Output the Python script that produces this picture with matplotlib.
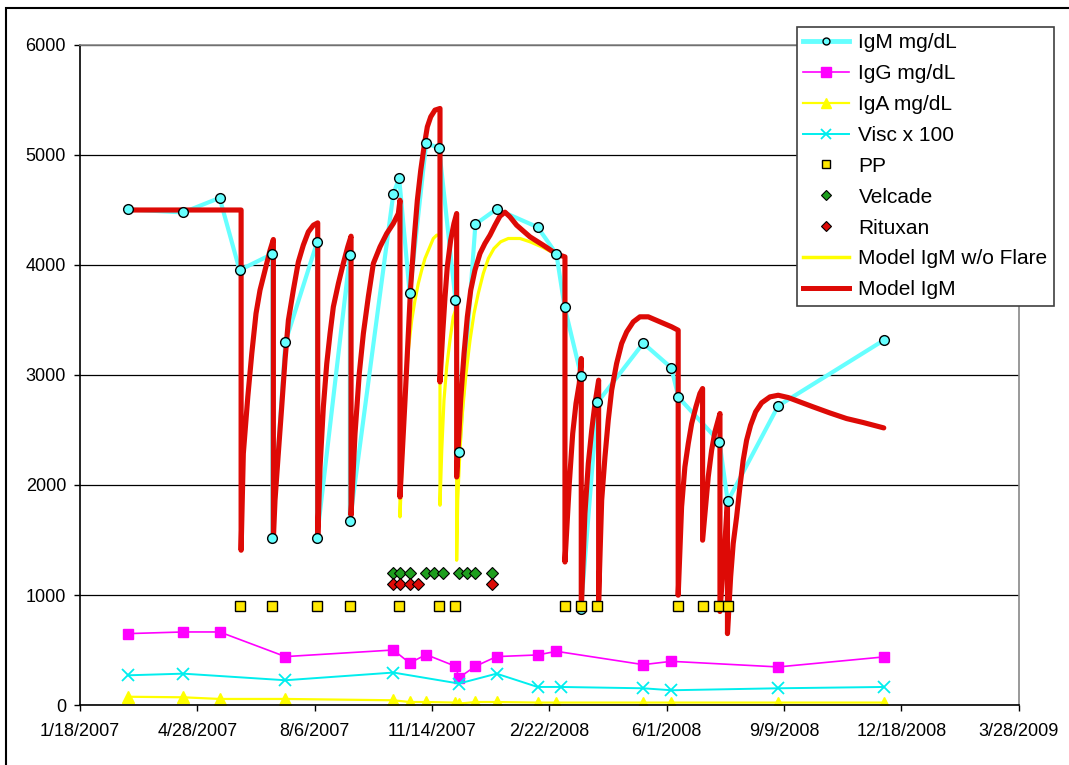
import numpy as np
import pandas as pd
import matplotlib
matplotlib.use("Agg")
import matplotlib.pyplot as plt
import matplotlib.dates as mdates
from matplotlib.lines import Line2D
from matplotlib.patches import Rectangle

plt.rcParams['font.family'] = ['Liberation Sans', 'DejaVu Sans']

# ---- measured lab values ----
igm_dates = ["2007-02-28", "2007-04-16", "2007-05-17", "2007-06-03", "2007-07-01", "2007-07-01",
             "2007-07-12", "2007-08-08", "2007-08-08", "2007-09-05", "2007-09-05", "2007-10-12",
             "2007-10-17", "2007-10-26", "2007-11-09", "2007-11-20", "2007-12-04", "2007-12-07",
             "2007-12-21", "2008-01-08", "2008-02-12", "2008-02-28", "2008-03-06", "2008-03-20",
             "2008-03-20", "2008-04-03", "2008-05-12", "2008-06-05", "2008-06-11", "2008-07-16",
             "2008-07-23", "2008-09-04", "2008-12-03"]
igm_vals = [4505, 4478, 4610, 3953, 4101, 1522, 3298, 4206, 1522, 4087, 1670, 4644, 4790, 3741,
            5108, 5063, 3683, 2301, 4371, 4508, 4344, 4101, 3619, 2995, 877, 2750, 3289, 3065,
            2798, 2392, 1852, 2719, 3316]

igg_dates = ["2007-02-28", "2007-04-16", "2007-05-17", "2007-07-12", "2007-10-12", "2007-10-26",
             "2007-11-09", "2007-12-04", "2007-12-07", "2007-12-21", "2008-01-08", "2008-02-12",
             "2008-02-28", "2008-05-12", "2008-06-05", "2008-09-04", "2008-12-03"]
igg_vals = [649, 664, 664, 440, 500, 382, 458, 352, 249, 352, 440, 455, 488, 367, 397, 346, 437]

iga_dates = igg_dates
iga_vals = [75, 70, 55, 55, 43, 27, 27, 22, 13, 27, 27, 22, 22, 22, 22, 22, 22]

visc_dates = ["2007-02-28", "2007-04-16", "2007-07-12", "2007-10-12", "2007-12-07", "2008-01-08",
              "2008-02-12", "2008-03-03", "2008-05-12", "2008-06-05", "2008-09-04", "2008-12-03"]
visc_vals = [270, 285, 225, 295, 195, 285, 164, 164, 152, 134, 152, 164]

# ---- treatments ----
pp_dates = ["2007-06-03", "2007-07-01", "2007-08-08", "2007-09-05", "2007-10-17", "2007-11-20",
            "2007-12-04", "2008-03-06", "2008-03-20", "2008-04-03", "2008-06-11", "2008-07-02",
            "2008-07-16", "2008-07-23"]
pp_level = 900

velcade_dates = ["2007-10-12", "2007-10-18", "2007-10-26", "2007-11-09", "2007-11-16", "2007-11-23",
                 "2007-12-07", "2007-12-14", "2007-12-21", "2008-01-04"]
velcade_level = 1200

rituxan_dates = ["2007-10-12", "2007-10-18", "2007-10-26", "2007-11-02", "2008-01-04"]
rituxan_level = 1100

# ---- model curves (days after 1/18/2007) ----
model_day = [41.8, 137.3, 137.3, 139.2, 143.0, 146.4, 150.0, 153.4, 157.7, 162.0, 164.8,
             164.8, 166.2, 169.0, 171.9, 174.7, 177.6, 181.8, 186.1, 190.3, 194.6, 198.9, 202.6,
             202.6, 204.6, 207.4, 210.3, 213.1, 215.9, 220.2, 224.4, 228.2, 231.0,
             231.0, 234.4, 238.0, 241.5, 245.7, 250.0, 255.7, 261.4, 267.0, 271.3, 272.7,
             272.7, 277.0, 279.8, 281.8, 284.7, 287.5, 290.4, 293.2, 296.0, 298.9, 302.5, 306.8,
             306.8, 309.1, 311.1, 313.0, 315.9, 318.7, 321.0,
             321.0, 324.4, 327.3, 330.1, 333.0, 336.6, 340.9, 345.1, 349.4, 353.7, 357.9, 362.2,
             366.4, 372.1, 383.5, 394.8, 406.2, 413.3,
             413.3, 417.0, 419.9, 422.7, 425.5, 427.2,
             427.2, 430.3, 433.2, 436.1, 438.9, 442.0,
             442.0, 444.6, 447.4, 450.2, 453.1, 457.3, 461.6, 465.9, 471.5, 477.2, 484.3, 494.3,
             504.2, 509.8,
             509.8, 512.7, 515.5, 518.4, 521.3, 524.9, 528.3, 530.6,
             530.6, 533.4, 535.4, 538.3, 541.1, 545.4,
             545.4, 549.5, 551.8,
             551.8, 554.5, 556.7, 559.6, 562.4, 565.2, 568.1, 571.5, 575.8, 580.9, 588.0, 595.0,
             603.6, 613.5, 624.9, 639.1, 653.3, 667.5, 685.0]
model_igm = [4500, 4500, 1407, 2286, 2801, 3195, 3559, 3771, 3953, 4135, 4232,
             1513, 1862, 2286, 2710, 3134, 3498, 3771, 4029, 4180, 4301, 4362, 4383,
             1513, 2164, 2710, 3104, 3377, 3619, 3832, 4014, 4165, 4262,
             1725, 2468, 3013, 3377, 3710, 4014, 4165, 4286, 4377, 4468, 4589,
             1891, 2771, 3377, 3801, 4226, 4589, 4862, 5074, 5256, 5347, 5408, 5423,
             2937, 3377, 3710, 3983, 4226, 4377, 4468,
             2073, 2771, 3195, 3529, 3771, 3953, 4105, 4196, 4271, 4362, 4444, 4480,
             4438, 4362, 4256, 4180, 4099, 4074,
             1300, 2013, 2468, 2741, 2923, 3150,
             860, 1740, 2195, 2498, 2741, 2953,
             952, 1862, 2256, 2589, 2862, 3104, 3286, 3392, 3483, 3529, 3529, 3483,
             3438, 3407,
             998, 1801, 2164, 2377, 2559, 2710, 2832, 2877,
             1498, 1831, 2073, 2316, 2483, 2650,
             850, 1450, 1870,
             649, 1164, 1468, 1710, 1983, 2225, 2407, 2543, 2665, 2747, 2801, 2816,
             2795, 2755, 2710, 2655, 2604, 2568, 2519]

# model without the flare differs from the full model only in this window
noflare_day = [272.7, 275.0, 277.0, 279.8, 282.7, 285.5, 288.3, 291.2, 294.0, 297.5, 301.1, 304.0,
               306.8, 306.8, 308.3, 310.2, 312.5, 315.3, 318.1, 321.0,
               321.0, 321.9, 323.8, 326.1, 329.0, 332.4, 335.8, 339.4, 343.7, 348.0, 352.8, 358.5,
               365.0, 375.0, 383.5, 394.8, 403.3]
noflare_igm = [1710, 2316, 2771, 3225, 3498, 3680, 3832, 3953, 4059, 4150, 4241, 4271,
               4271, 1816, 2316, 2771, 3074, 3316, 3529, 3619,
               1316, 1862, 2316, 2680, 3013, 3316, 3559, 3741, 3923, 4059, 4150, 4211,
               4241, 4241, 4211, 4159, 4110]

axis_start = "2007-01-18"
axis_end = "2009-03-28"
tick_step_days = 100


def dnum(dates):
    return mdates.date2num(pd.to_datetime(dates))


base = mdates.date2num(pd.Timestamp(axis_start))
model_x = base + np.array(model_day)
model_y = np.array(model_igm, dtype=float)

# full model up to the flare peak, then the no-flare window, then the common tail
peak_idx = model_day.index(noflare_day[0])
tail_mask = np.array(model_day) >= 406.2
nf_x = np.concatenate([model_x[:peak_idx + 1], base + np.array(noflare_day), model_x[tail_mask]])
nf_y = np.concatenate([model_y[:peak_idx + 1], np.array(noflare_igm, float), model_y[tail_mask]])

W, H = 1069, 765
fig = plt.figure(figsize=(W / 100, H / 100), dpi=100)
ax = fig.add_axes([80 / W, 1 - 705 / H, (1018.7 - 80) / W, (705 - 45) / H])

c_igm = '#66FFFF'
c_igg = '#FF00FF'
c_iga = '#FFFF00'
c_visc = '#00EEEE'
c_red = '#DD0A06'
c_green = '#1E9E1E'

# lines
ax.plot(dnum(igm_dates), igm_vals, color=c_igm, lw=3.0, zorder=3, solid_joinstyle='round')
ax.plot(dnum(igg_dates), igg_vals, color=c_igg, lw=1.2, marker='s', ms=7, mec=c_igg, zorder=3)
ax.plot(dnum(iga_dates), iga_vals, color=c_iga, lw=1.6, marker='^', ms=8.5, mec=c_iga, zorder=3)
ax.plot(dnum(visc_dates), visc_vals, color=c_visc, lw=1.4, marker='x', ms=8, mew=1.3, zorder=3)
ax.plot(nf_x, nf_y, color=c_iga, lw=2.3, zorder=4, solid_joinstyle='round')
ax.plot(model_x, model_y, color=c_red, lw=3.7, zorder=5, solid_joinstyle='round',
        solid_capstyle='round')

# markers on top
ax.plot(dnum(igm_dates), igm_vals, ls='none', marker='o', ms=7, mfc=c_igm, mec='black',
        mew=1.0, zorder=6)
ax.plot(dnum(velcade_dates), [velcade_level] * len(velcade_dates), ls='none', marker='D', ms=6,
        mfc=c_green, mec='black', mew=0.8, zorder=6)
ax.plot(dnum(rituxan_dates), [rituxan_level] * len(rituxan_dates), ls='none', marker='D', ms=6,
        mfc=c_red, mec='black', mew=0.8, zorder=6)
ax.plot(dnum(pp_dates), [pp_level] * len(pp_dates), ls='none', marker='s', ms=6.5,
        mfc='#FFE800', mec='black', mew=1.0, zorder=7)

# axes
ax.set_ylim(0, 6000)
ax.set_yticks(np.arange(0, 6001, 1000))
ax.set_xlim(dnum([axis_start])[0], dnum([axis_end])[0])
tick_dates = pd.date_range(axis_start, axis_end, freq=f"{tick_step_days}D")
ax.set_xticks(mdates.date2num(tick_dates))
ax.set_xticklabels([f"{d.month}/{d.day}/{d.year}" for d in tick_dates])
ax.tick_params(axis='both', direction='out', length=4, width=1, labelsize=13, colors='black')
ax.tick_params(axis='y', pad=6)
ax.tick_params(axis='x', pad=9)

ax.grid(axis='y', color='black', lw=0.9, zorder=1)
ax.set_axisbelow(True)
for s in ['left', 'bottom']:
    ax.spines[s].set_color('black')
    ax.spines[s].set_linewidth(1.2)
for s in ['right', 'top']:
    ax.spines[s].set_color('#888888')
    ax.spines[s].set_linewidth(1.2)
ax.spines['bottom'].set_zorder(8)

# legend
handles = [
    Line2D([], [], color=c_igm, lw=3.5, marker='o', ms=5, mfc=c_igm, mec='black', mew=1.0),
    Line2D([], [], color=c_igg, lw=1.2, marker='s', ms=6.5, mec=c_igg),
    Line2D([], [], color=c_iga, lw=1.6, marker='^', ms=7.5, mec=c_iga),
    Line2D([], [], color=c_visc, lw=1.4, marker='x', ms=7.5, mew=1.3),
    Line2D([], [], ls='none', marker='s', ms=6, mfc='#FFE800', mec='black', mew=1.0),
    Line2D([], [], ls='none', marker='D', ms=5.5, mfc=c_green, mec='black', mew=0.8),
    Line2D([], [], ls='none', marker='D', ms=5.5, mfc=c_red, mec='black', mew=0.8),
    Line2D([], [], color=c_iga, lw=2.5),
    Line2D([], [], color=c_red, lw=3.6),
]
labels = ["IgM mg/dL", "IgG mg/dL", "IgA mg/dL", "Visc x 100", "PP", "Velcade", "Rituxan",
          "Model IgM w/o Flare", "Model IgM"]
leg = fig.legend(handles, labels, loc='upper left', bbox_to_anchor=(797 / W, 1 - 27 / H),
                 bbox_transform=fig.transFigure, fontsize=15, frameon=True, fancybox=False,
                 edgecolor='#404040', framealpha=1, handlelength=2.2, handletextpad=0.45,
                 labelspacing=0.57, borderpad=0.3, borderaxespad=0)
leg.get_frame().set_linewidth(1.2)
leg.set_zorder(20)

# chart frame
fig.patches.append(Rectangle((6 / W, -0.1), 1.2, 1 - 8 / H + 0.1, transform=fig.transFigure,
                             fill=False, ec='black', lw=1.5))

fig.savefig("out.png", dpi=100)
